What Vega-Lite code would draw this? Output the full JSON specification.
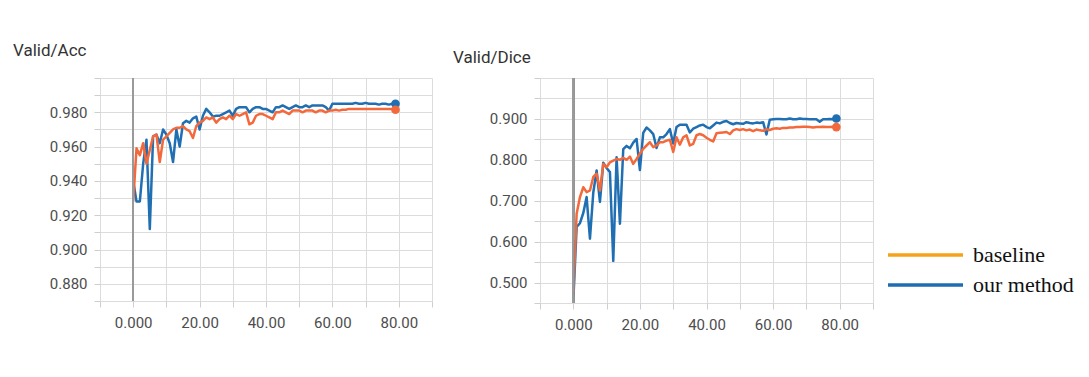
{
  "$schema": "https://vega.github.io/schema/vega-lite/v6.json",
  "background": "white",
  "padding": {"left": 13, "top": 42, "right": 5, "bottom": 5},
  "datasets": {
    "runs": [
      {"epoch":0,"method":"our method","acc":0.940,"dice":0.455},
      {"epoch":1,"method":"our method","acc":0.928,"dice":0.636},
      {"epoch":2,"method":"our method","acc":0.928,"dice":0.645},
      {"epoch":3,"method":"our method","acc":0.950,"dice":0.670},
      {"epoch":4,"method":"our method","acc":0.964,"dice":0.709},
      {"epoch":5,"method":"our method","acc":0.912,"dice":0.607},
      {"epoch":6,"method":"our method","acc":0.966,"dice":0.720},
      {"epoch":7,"method":"our method","acc":0.967,"dice":0.774},
      {"epoch":8,"method":"our method","acc":0.962,"dice":0.697},
      {"epoch":9,"method":"our method","acc":0.970,"dice":0.793},
      {"epoch":10,"method":"our method","acc":0.967,"dice":0.780},
      {"epoch":11,"method":"our method","acc":0.962,"dice":0.770},
      {"epoch":12,"method":"our method","acc":0.951,"dice":0.553},
      {"epoch":13,"method":"our method","acc":0.970,"dice":0.806},
      {"epoch":14,"method":"our method","acc":0.960,"dice":0.644},
      {"epoch":15,"method":"our method","acc":0.9736,"dice":0.826},
      {"epoch":16,"method":"our method","acc":0.975,"dice":0.834},
      {"epoch":17,"method":"our method","acc":0.974,"dice":0.828},
      {"epoch":18,"method":"our method","acc":0.9765,"dice":0.842},
      {"epoch":19,"method":"our method","acc":0.9775,"dice":0.851},
      {"epoch":20,"method":"our method","acc":0.970,"dice":0.775},
      {"epoch":21,"method":"our method","acc":0.978,"dice":0.866},
      {"epoch":22,"method":"our method","acc":0.982,"dice":0.879},
      {"epoch":23,"method":"our method","acc":0.980,"dice":0.872},
      {"epoch":24,"method":"our method","acc":0.9775,"dice":0.863},
      {"epoch":25,"method":"our method","acc":0.978,"dice":0.829},
      {"epoch":26,"method":"our method","acc":0.978,"dice":0.855},
      {"epoch":27,"method":"our method","acc":0.979,"dice":0.855},
      {"epoch":28,"method":"our method","acc":0.980,"dice":0.863},
      {"epoch":29,"method":"our method","acc":0.981,"dice":0.875},
      {"epoch":30,"method":"our method","acc":0.978,"dice":0.840},
      {"epoch":31,"method":"our method","acc":0.982,"dice":0.880},
      {"epoch":32,"method":"our method","acc":0.983,"dice":0.886},
      {"epoch":33,"method":"our method","acc":0.983,"dice":0.886},
      {"epoch":34,"method":"our method","acc":0.983,"dice":0.886},
      {"epoch":35,"method":"our method","acc":0.980,"dice":0.867},
      {"epoch":36,"method":"our method","acc":0.982,"dice":0.876},
      {"epoch":37,"method":"our method","acc":0.983,"dice":0.880},
      {"epoch":38,"method":"our method","acc":0.983,"dice":0.884},
      {"epoch":39,"method":"our method","acc":0.982,"dice":0.886},
      {"epoch":40,"method":"our method","acc":0.982,"dice":0.880},
      {"epoch":41,"method":"our method","acc":0.981,"dice":0.877},
      {"epoch":42,"method":"our method","acc":0.980,"dice":0.884},
      {"epoch":43,"method":"our method","acc":0.983,"dice":0.891},
      {"epoch":44,"method":"our method","acc":0.983,"dice":0.889},
      {"epoch":45,"method":"our method","acc":0.984,"dice":0.893},
      {"epoch":46,"method":"our method","acc":0.983,"dice":0.895},
      {"epoch":47,"method":"our method","acc":0.982,"dice":0.890},
      {"epoch":48,"method":"our method","acc":0.983,"dice":0.887},
      {"epoch":49,"method":"our method","acc":0.984,"dice":0.890},
      {"epoch":50,"method":"our method","acc":0.983,"dice":0.889},
      {"epoch":51,"method":"our method","acc":0.983,"dice":0.888},
      {"epoch":52,"method":"our method","acc":0.984,"dice":0.892},
      {"epoch":53,"method":"our method","acc":0.983,"dice":0.890},
      {"epoch":54,"method":"our method","acc":0.984,"dice":0.889},
      {"epoch":55,"method":"our method","acc":0.984,"dice":0.891},
      {"epoch":56,"method":"our method","acc":0.984,"dice":0.890},
      {"epoch":57,"method":"our method","acc":0.984,"dice":0.892},
      {"epoch":58,"method":"our method","acc":0.983,"dice":0.862},
      {"epoch":59,"method":"our method","acc":0.981,"dice":0.898},
      {"epoch":60,"method":"our method","acc":0.985,"dice":0.899},
      {"epoch":61,"method":"our method","acc":0.985,"dice":0.900},
      {"epoch":62,"method":"our method","acc":0.985,"dice":0.900},
      {"epoch":63,"method":"our method","acc":0.985,"dice":0.899},
      {"epoch":64,"method":"our method","acc":0.985,"dice":0.899},
      {"epoch":65,"method":"our method","acc":0.985,"dice":0.901},
      {"epoch":66,"method":"our method","acc":0.985,"dice":0.899},
      {"epoch":67,"method":"our method","acc":0.9855,"dice":0.899},
      {"epoch":68,"method":"our method","acc":0.985,"dice":0.901},
      {"epoch":69,"method":"our method","acc":0.985,"dice":0.900},
      {"epoch":70,"method":"our method","acc":0.9855,"dice":0.900},
      {"epoch":71,"method":"our method","acc":0.985,"dice":0.899},
      {"epoch":72,"method":"our method","acc":0.985,"dice":0.899},
      {"epoch":73,"method":"our method","acc":0.985,"dice":0.899},
      {"epoch":74,"method":"our method","acc":0.9845,"dice":0.893},
      {"epoch":75,"method":"our method","acc":0.985,"dice":0.899},
      {"epoch":76,"method":"our method","acc":0.985,"dice":0.899},
      {"epoch":77,"method":"our method","acc":0.9845,"dice":0.900},
      {"epoch":78,"method":"our method","acc":0.985,"dice":0.899},
      {"epoch":79,"method":"our method","acc":0.985,"dice":0.901},
      {"epoch":0,"method":"baseline","acc":0.928,"dice":0.473},
      {"epoch":1,"method":"baseline","acc":0.959,"dice":0.668},
      {"epoch":2,"method":"baseline","acc":0.955,"dice":0.709},
      {"epoch":3,"method":"baseline","acc":0.962,"dice":0.733},
      {"epoch":4,"method":"baseline","acc":0.950,"dice":0.721},
      {"epoch":5,"method":"baseline","acc":0.958,"dice":0.725},
      {"epoch":6,"method":"baseline","acc":0.966,"dice":0.758},
      {"epoch":7,"method":"baseline","acc":0.967,"dice":0.766},
      {"epoch":8,"method":"baseline","acc":0.951,"dice":0.725},
      {"epoch":9,"method":"baseline","acc":0.964,"dice":0.790},
      {"epoch":10,"method":"baseline","acc":0.966,"dice":0.782},
      {"epoch":11,"method":"baseline","acc":0.968,"dice":0.794},
      {"epoch":12,"method":"baseline","acc":0.970,"dice":0.798},
      {"epoch":13,"method":"baseline","acc":0.971,"dice":0.802},
      {"epoch":14,"method":"baseline","acc":0.971,"dice":0.800},
      {"epoch":15,"method":"baseline","acc":0.972,"dice":0.805},
      {"epoch":16,"method":"baseline","acc":0.970,"dice":0.800},
      {"epoch":17,"method":"baseline","acc":0.969,"dice":0.808},
      {"epoch":18,"method":"baseline","acc":0.965,"dice":0.790},
      {"epoch":19,"method":"baseline","acc":0.972,"dice":0.802},
      {"epoch":20,"method":"baseline","acc":0.974,"dice":0.815},
      {"epoch":21,"method":"baseline","acc":0.975,"dice":0.827},
      {"epoch":22,"method":"baseline","acc":0.977,"dice":0.835},
      {"epoch":23,"method":"baseline","acc":0.976,"dice":0.843},
      {"epoch":24,"method":"baseline","acc":0.977,"dice":0.831},
      {"epoch":25,"method":"baseline","acc":0.974,"dice":0.835},
      {"epoch":26,"method":"baseline","acc":0.976,"dice":0.843},
      {"epoch":27,"method":"baseline","acc":0.977,"dice":0.843},
      {"epoch":28,"method":"baseline","acc":0.976,"dice":0.847},
      {"epoch":29,"method":"baseline","acc":0.978,"dice":0.849},
      {"epoch":30,"method":"baseline","acc":0.976,"dice":0.819},
      {"epoch":31,"method":"baseline","acc":0.979,"dice":0.855},
      {"epoch":32,"method":"baseline","acc":0.978,"dice":0.837},
      {"epoch":33,"method":"baseline","acc":0.979,"dice":0.855},
      {"epoch":34,"method":"baseline","acc":0.980,"dice":0.860},
      {"epoch":35,"method":"baseline","acc":0.973,"dice":0.835},
      {"epoch":36,"method":"baseline","acc":0.974,"dice":0.839},
      {"epoch":37,"method":"baseline","acc":0.978,"dice":0.860},
      {"epoch":38,"method":"baseline","acc":0.979,"dice":0.863},
      {"epoch":39,"method":"baseline","acc":0.979,"dice":0.860},
      {"epoch":40,"method":"baseline","acc":0.978,"dice":0.854},
      {"epoch":41,"method":"baseline","acc":0.977,"dice":0.849},
      {"epoch":42,"method":"baseline","acc":0.976,"dice":0.845},
      {"epoch":43,"method":"baseline","acc":0.980,"dice":0.865},
      {"epoch":44,"method":"baseline","acc":0.980,"dice":0.866},
      {"epoch":45,"method":"baseline","acc":0.981,"dice":0.867},
      {"epoch":46,"method":"baseline","acc":0.980,"dice":0.868},
      {"epoch":47,"method":"baseline","acc":0.979,"dice":0.863},
      {"epoch":48,"method":"baseline","acc":0.981,"dice":0.872},
      {"epoch":49,"method":"baseline","acc":0.981,"dice":0.875},
      {"epoch":50,"method":"baseline","acc":0.981,"dice":0.873},
      {"epoch":51,"method":"baseline","acc":0.980,"dice":0.875},
      {"epoch":52,"method":"baseline","acc":0.981,"dice":0.872},
      {"epoch":53,"method":"baseline","acc":0.981,"dice":0.874},
      {"epoch":54,"method":"baseline","acc":0.981,"dice":0.870},
      {"epoch":55,"method":"baseline","acc":0.980,"dice":0.874},
      {"epoch":56,"method":"baseline","acc":0.981,"dice":0.872},
      {"epoch":57,"method":"baseline","acc":0.981,"dice":0.871},
      {"epoch":58,"method":"baseline","acc":0.980,"dice":0.875},
      {"epoch":59,"method":"baseline","acc":0.981,"dice":0.873},
      {"epoch":60,"method":"baseline","acc":0.981,"dice":0.876},
      {"epoch":61,"method":"baseline","acc":0.9815,"dice":0.877},
      {"epoch":62,"method":"baseline","acc":0.981,"dice":0.876},
      {"epoch":63,"method":"baseline","acc":0.9815,"dice":0.878},
      {"epoch":64,"method":"baseline","acc":0.9815,"dice":0.878},
      {"epoch":65,"method":"baseline","acc":0.982,"dice":0.879},
      {"epoch":66,"method":"baseline","acc":0.982,"dice":0.879},
      {"epoch":67,"method":"baseline","acc":0.982,"dice":0.880},
      {"epoch":68,"method":"baseline","acc":0.982,"dice":0.880},
      {"epoch":69,"method":"baseline","acc":0.982,"dice":0.881},
      {"epoch":70,"method":"baseline","acc":0.982,"dice":0.881},
      {"epoch":71,"method":"baseline","acc":0.982,"dice":0.880},
      {"epoch":72,"method":"baseline","acc":0.982,"dice":0.879},
      {"epoch":73,"method":"baseline","acc":0.982,"dice":0.880},
      {"epoch":74,"method":"baseline","acc":0.982,"dice":0.880},
      {"epoch":75,"method":"baseline","acc":0.982,"dice":0.881},
      {"epoch":76,"method":"baseline","acc":0.982,"dice":0.880},
      {"epoch":77,"method":"baseline","acc":0.982,"dice":0.880},
      {"epoch":78,"method":"baseline","acc":0.982,"dice":0.881},
      {"epoch":79,"method":"baseline","acc":0.9815,"dice":0.880}
    ]
  },
  "data": {"name": "runs"},
  "config": {
    "font": "Roboto",
    "view": {"stroke": null},
    "axis": {
      "gridColor": "#dcdcdc",
      "gridWidth": 1,
      "tickColor": "#cfcfcf",
      "tickSize": 6,
      "tickCount": 100,
      "domain": false,
      "labelFont": "Roboto",
      "labelFontSize": 15,
      "labelColor": "#4d4d4d",
      "labelOverlap": false,
      "title": null
    },
    "title": {
      "font": "Roboto",
      "fontSize": 17,
      "fontWeight": "normal",
      "color": "#333333",
      "anchor": "start",
      "frame": "group",
      "dx": -87,
      "offset": 8
    }
  },
  "spacing": 20,
  "resolve": {"scale": {"color": "independent"}, "legend": {"color": "independent"}},
  "hconcat": [
    {
      "width": 332,
      "height": 223,
      "title": {"text": "Valid/Acc", "dy": -3},
      "layer": [
        {
          "mark": {"type": "line", "strokeWidth": 2.5, "strokeJoin": "round"},
          "encoding": {
            "x": {"field": "epoch", "type": "quantitative", "scale": {"domain": [-10, 90], "nice": false, "zero": false},
              "axis": {"values": [-10,0,10,20,30,40,50,60,70,80,90], "labelPadding": 8, "tickCount": 100,
                "labelExpr": "datum.value == 0 ? '0.000' : (datum.value > 0 && datum.value % 20 == 0 ? format(datum.value, '.2f') : '')"}},
            "y": {"field": "acc", "type": "quantitative", "scale": {"domain": [0.87, 1.0], "nice": false, "zero": false},
              "axis": {"values": [0.87,0.88,0.89,0.90,0.91,0.92,0.93,0.94,0.95,0.96,0.97,0.98,0.99,1.0], "labelPadding": 7, "tickCount": 100,
                "labelExpr": "(round(datum.value*1000) % 20 == 0 && datum.value < 0.99) ? format(datum.value, '.3f') : ''"}},
            "color": {"field": "method", "type": "nominal", "scale": {"domain": ["baseline", "our method"], "range": ["#f4693b", "#1f6fb2"]}, "legend": null}
          }
        },
        {
          "mark": {"type": "rule", "color": "#9a9a9a", "strokeWidth": 1.5},
          "encoding": {"x": {"datum": 0, "type": "quantitative"}}
        },
        {
          "transform": [{"filter": "datum.epoch == 79"}],
          "mark": {"type": "point", "filled": true, "size": 75, "opacity": 1},
          "encoding": {
            "x": {"field": "epoch", "type": "quantitative"},
            "y": {"field": "acc", "type": "quantitative"},
            "color": {"field": "method", "type": "nominal", "legend": null}
          }
        }
      ]
    },
    {
      "width": 333,
      "height": 225,
      "title": {"text": "Valid/Dice", "dy": 4},
      "layer": [
        {
          "mark": {"type": "line", "strokeWidth": 2.5, "strokeJoin": "round"},
          "encoding": {
            "x": {"field": "epoch", "type": "quantitative", "scale": {"domain": [-10, 90], "nice": false, "zero": false},
              "axis": {"values": [-10,0,10,20,30,40,50,60,70,80,90], "labelPadding": 8, "tickCount": 100,
                "labelExpr": "datum.value == 0 ? '0.000' : (datum.value > 0 && datum.value % 20 == 0 ? format(datum.value, '.2f') : '')"}},
            "y": {"field": "dice", "type": "quantitative", "scale": {"domain": [0.45, 1.0], "nice": false, "zero": false},
              "axis": {"values": [0.45,0.5,0.55,0.6,0.65,0.7,0.75,0.8,0.85,0.9,0.95,1.0], "labelPadding": 7, "tickCount": 100,
                "labelExpr": "(round(datum.value*100) % 10 == 0 && datum.value < 0.95) ? format(datum.value, '.3f') : ''"}},
            "stroke": {"field": "method", "type": "nominal", "scale": {"domain": ["baseline", "our method"], "range": ["#f4693b", "#1f6fb2"]}, "legend": null}
          }
        },
        {
          "mark": {"type": "rule", "color": "#9a9a9a", "strokeWidth": 1.5},
          "encoding": {"x": {"datum": 0, "type": "quantitative"}}
        },
        {
          "transform": [{"filter": "datum.epoch == 79"}],
          "mark": {"type": "point", "filled": true, "size": 75, "opacity": 1},
          "encoding": {
            "x": {"field": "epoch", "type": "quantitative"},
            "y": {"field": "dice", "type": "quantitative"},
            "fill": {"field": "method", "type": "nominal", "scale": {"domain": ["baseline", "our method"], "range": ["#f4693b", "#1f6fb2"]}, "legend": null}
          }
        },
        {
          "transform": [{"filter": "false"}],
          "mark": {"type": "line", "strokeWidth": 3.5},
          "encoding": {
            "x": {"field": "epoch", "type": "quantitative"},
            "y": {"field": "dice", "type": "quantitative"},
            "color": {"field": "method", "type": "nominal", "scale": {"domain": ["baseline", "our method"], "range": ["#f5a21b", "#1e6db2"]},
              "legend": {
                "orient": "none", "legendX": 391, "legendY": 160, "title": null,
                "symbolType": "M-4,0H1", "symbolSize": 900, "symbolStrokeWidth": 3.5, "symbolOpacity": 1,
                "labelFont": "Liberation Serif", "labelFontSize": 22, "labelColor": "#111111",
                "labelOffset": 8, "rowPadding": 2
              }}
          }
        }
      ]
    }
  ]
}
